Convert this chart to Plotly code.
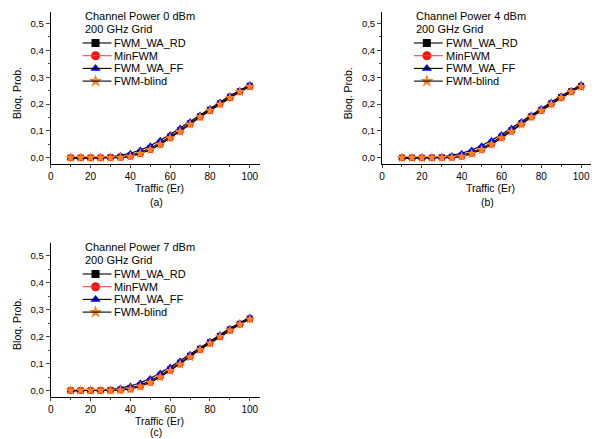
import plotly.graph_objects as go

traffic = [10, 15, 20, 25, 30, 35, 40, 45, 50, 55, 60, 65, 70, 75, 80, 85, 90, 95, 100]
fwm_wa_rd = [0.0, 0.0, 0.0, 0.0005, 0.002, 0.004, 0.009, 0.02, 0.036, 0.056, 0.079, 0.103, 0.129, 0.155, 0.179, 0.203, 0.227, 0.248, 0.268]
min_fwm = [0.0, 0.0, 0.0, 0.0, 0.001, 0.002, 0.006, 0.016, 0.031, 0.051, 0.075, 0.099, 0.126, 0.152, 0.176, 0.2, 0.224, 0.246, 0.266]
fwm_wa_ff = [0.0, 0.0, 0.0, 0.001, 0.004, 0.009, 0.017, 0.029, 0.045, 0.065, 0.087, 0.111, 0.135, 0.159, 0.184, 0.208, 0.231, 0.251, 0.273]
fwm_blind = [0.0, 0.0, 0.0, 0.0, 0.0, 0.001, 0.005, 0.015, 0.03, 0.05, 0.074, 0.098, 0.125, 0.152, 0.176, 0.2, 0.224, 0.246, 0.265]
series_names = ["FWM_WA_RD", "MinFWM", "FWM_WA_FF", "FWM-blind"]
powers = ["0", "4", "7"]
panel_labels = ["(a)", "(b)", "(c)"]
x_ticks = [0, 20, 40, 60, 80, 100]
y_ticks = [0, 0.1, 0.2, 0.3, 0.4, 0.5]
y_tick_labels = ["0,0", "0,1", "0,2", "0,3", "0,4", "0,5"]

series_values = [fwm_wa_rd, min_fwm, fwm_wa_ff, fwm_blind]
styles = [
    dict(mcol="black", sym="square", lcol="black", ms=6),
    dict(mcol="#ff1010", sym="circle", lcol="#ff4040", ms=7),
    dict(mcol="#0000ff", sym="triangle-up", lcol="black", ms=7),
    dict(mcol="#ff8020", sym="star", lcol="black", ms=8),
]

W, H = 601, 439
panels = [
    dict(x0=48, x1=258, y0=12, y1=164, yr=[-0.023, 0.543]),
    dict(x0=381, x1=591, y0=12, y1=164, yr=[-0.023, 0.543]),
    dict(x0=48, x1=258, y0=243, y1=397, yr=[-0.024, 0.548]),
]

fig = go.Figure()
font = "Liberation Sans, Arial, sans-serif"
annotations = []
shapes = []
layout = dict(
    width=W, height=H, margin=dict(l=0, r=0, t=0, b=0),
    paper_bgcolor="white", plot_bgcolor="rgba(0,0,0,0)",
    font=dict(family=font, size=10, color="black"),
    showlegend=False,
)

# overlay pixel axis for legend keys
layout["xaxis4"] = dict(domain=[0, 1], range=[0, W], visible=False, anchor="y4", fixedrange=True)
layout["yaxis4"] = dict(domain=[0, 1], range=[H, 0], visible=False, anchor="x4", fixedrange=True)

for i, p in enumerate(panels):
    k = "" if i == 0 else str(i + 1)
    for name, vals, st in zip(series_names, series_values, styles):
        fig.add_trace(go.Scatter(
            x=traffic, y=vals, name=name, mode="lines+markers",
            line=dict(color=st["lcol"], width=1.2),
            marker=dict(symbol=st["sym"], color=st["mcol"], size=st["ms"], line=dict(width=0)),
            xaxis="x" + k, yaxis="y" + k,
        ))
    layout["xaxis" + k] = dict(
        domain=[p["x0"] / W, p["x1"] / W], anchor="y" + k, range=[0, 105],
        tickvals=x_ticks, ticks="outside", ticklen=3, tickwidth=1,
        showline=True, linecolor="black", linewidth=1.2, showgrid=False, zeroline=False,
        minor=dict(tickvals=[10, 30, 50, 70, 90], ticks="outside", ticklen=2),
        tickfont=dict(size=10),
    )
    layout["yaxis" + k] = dict(
        domain=[1 - p["y1"] / H, 1 - p["y0"] / H], anchor="x" + k, range=p["yr"],
        tickvals=y_ticks, ticktext=y_tick_labels,
        ticks="outside", ticklen=4, tickwidth=1,
        showline=True, linecolor="black", linewidth=1.2, showgrid=False, zeroline=False,
        minor=dict(tickvals=[0.05, 0.15, 0.25, 0.35, 0.45], ticks="outside", ticklen=2),
        tickfont=dict(size=9.5),
    )
    # manual legend
    lx = p["x0"] + 32
    ly = p["y0"] + 4
    annotations += [
        dict(text="Channel Power " + powers[i] + " dBm", x=lx / W, y=1 - ly / H, xref="paper", yref="paper",
             xanchor="left", yanchor="middle", showarrow=False, font=dict(size=11)),
        dict(text="200 GHz Grid", x=lx / W, y=1 - (ly + 13) / H, xref="paper", yref="paper",
             xanchor="left", yanchor="middle", showarrow=False, font=dict(size=11)),
    ]
    for j, (name, st) in enumerate(zip(series_names, styles)):
        ey = ly + 27 + j * 12.7
        shapes.append(dict(type="line", xref="x4", yref="y4", x0=lx, x1=lx + 29, y0=ey, y1=ey,
                           line=dict(color=st["lcol"], width=1.1)))
        fig.add_trace(go.Scatter(
            x=[lx + 13], y=[ey], mode="markers", hoverinfo="skip",
            marker=dict(symbol=st["sym"], color=st["mcol"], size=st["ms"] + 2, line=dict(width=0)),
            xaxis="x4", yaxis="y4",
        ))
        annotations.append(dict(text=name, x=(lx + 30) / W, y=1 - ey / H, xref="paper", yref="paper",
                                xanchor="left", yanchor="middle", showarrow=False, font=dict(size=11)))
    cx = p["x0"] + 109
    annotations += [
        dict(text="Traffic (Er)", x=cx / W, y=1 - (p["y1"] + 24) / H, xanchor="center",
             xref="paper", yref="paper", showarrow=False, yanchor="middle", font=dict(size=10.5)),
        dict(text=panel_labels[i], x=(cx - 3) / W, y=1 - min(p["y1"] + 38, 432) / H, xanchor="center",
             xref="paper", yref="paper", showarrow=False, yanchor="middle", font=dict(size=10.5)),
        dict(text="Bloq. Prob.", x=(p["x0"] - 34) / W, y=1 - (p["y0"] + 81) / H,
             xanchor="center", yanchor="middle",
             xref="paper", yref="paper", showarrow=False, textangle=-90, font=dict(size=10.5)),
    ]

layout["annotations"] = annotations
layout["shapes"] = shapes
fig.update_layout(**layout)
fig.write_html("out.html", config={"displayModeBar": False},
               post_script="document.body.style.margin='0';document.body.style.overflow='hidden';")
